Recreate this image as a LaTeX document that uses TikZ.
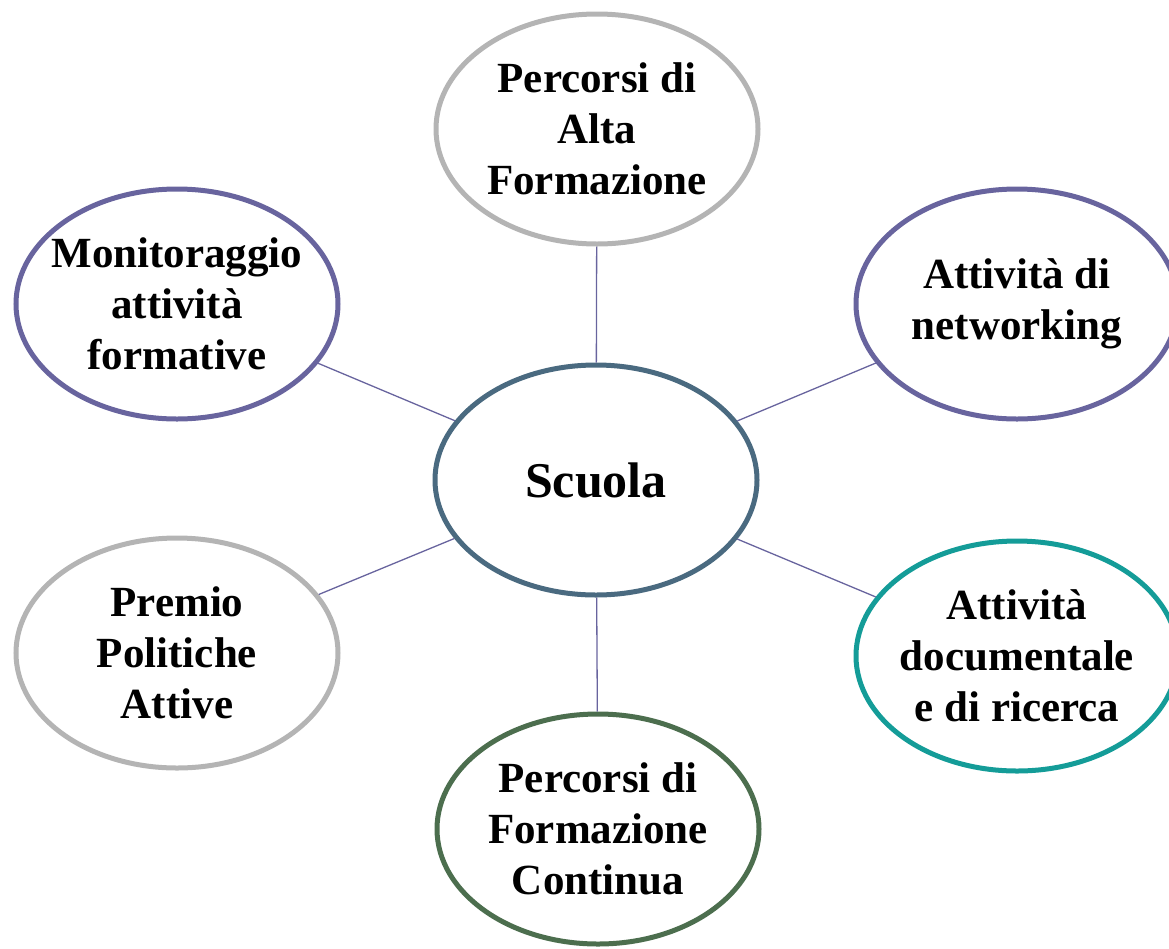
\documentclass[tikz,border=0pt]{standalone}
\usepackage{fontspec}
\setmainfont{Liberation Serif}
\usepackage{tikz}
\usetikzlibrary{shapes,positioning}
\definecolor{lilla}{RGB}{104,100,158}
\definecolor{grigio}{RGB}{180,180,180}
\definecolor{ardesia}{RGB}{74,106,128}
\definecolor{petrolio}{RGB}{20,156,152}
\definecolor{bosco}{RGB}{76,110,78}
\tikzset{bolla/.style={ellipse,draw=#1,line width=5pt,fill=white,
    minimum width=322pt,minimum height=230pt,inner sep=-14pt,align=center,
    font=\fontsize{43}{51}\selectfont\bfseries},
  raggio/.style={draw=lilla,line width=1.3pt}}

\begin{document}
\begin{tikzpicture}[x=1pt,y=-1pt]
  \useasboundingbox (0,0) rectangle (1169,948);
 %the centre
    \node[bolla=ardesia,font=\fontsize{50}{60}\selectfont\bfseries] (scuola) at (596,480) {Scuola};
 %the six activities
    \node[bolla=grigio] (alta) at (597,129) {Percorsi di\\Alta\\Formazione};
    \node[bolla=lilla] (monit) at (177,304) {Monitoraggio\\attività\\formative};
    \node[bolla=lilla] (net) at (1017,304) {Attività di\\networking};
    \node[bolla=grigio] (premio) at (177,653) {Premio\\Politiche\\Attive};
    \node[bolla=petrolio] (doc) at (1017,656) {Attività\\documentale\\e di ricerca};
    \node[bolla=bosco] (cont) at (598,829) {Percorsi di\\Formazione\\Continua};
 %draw edges
    \foreach \n in {alta,monit,net,premio,doc,cont}
      \draw[raggio] (scuola) -- (\n);
\end{tikzpicture}
\end{document}
